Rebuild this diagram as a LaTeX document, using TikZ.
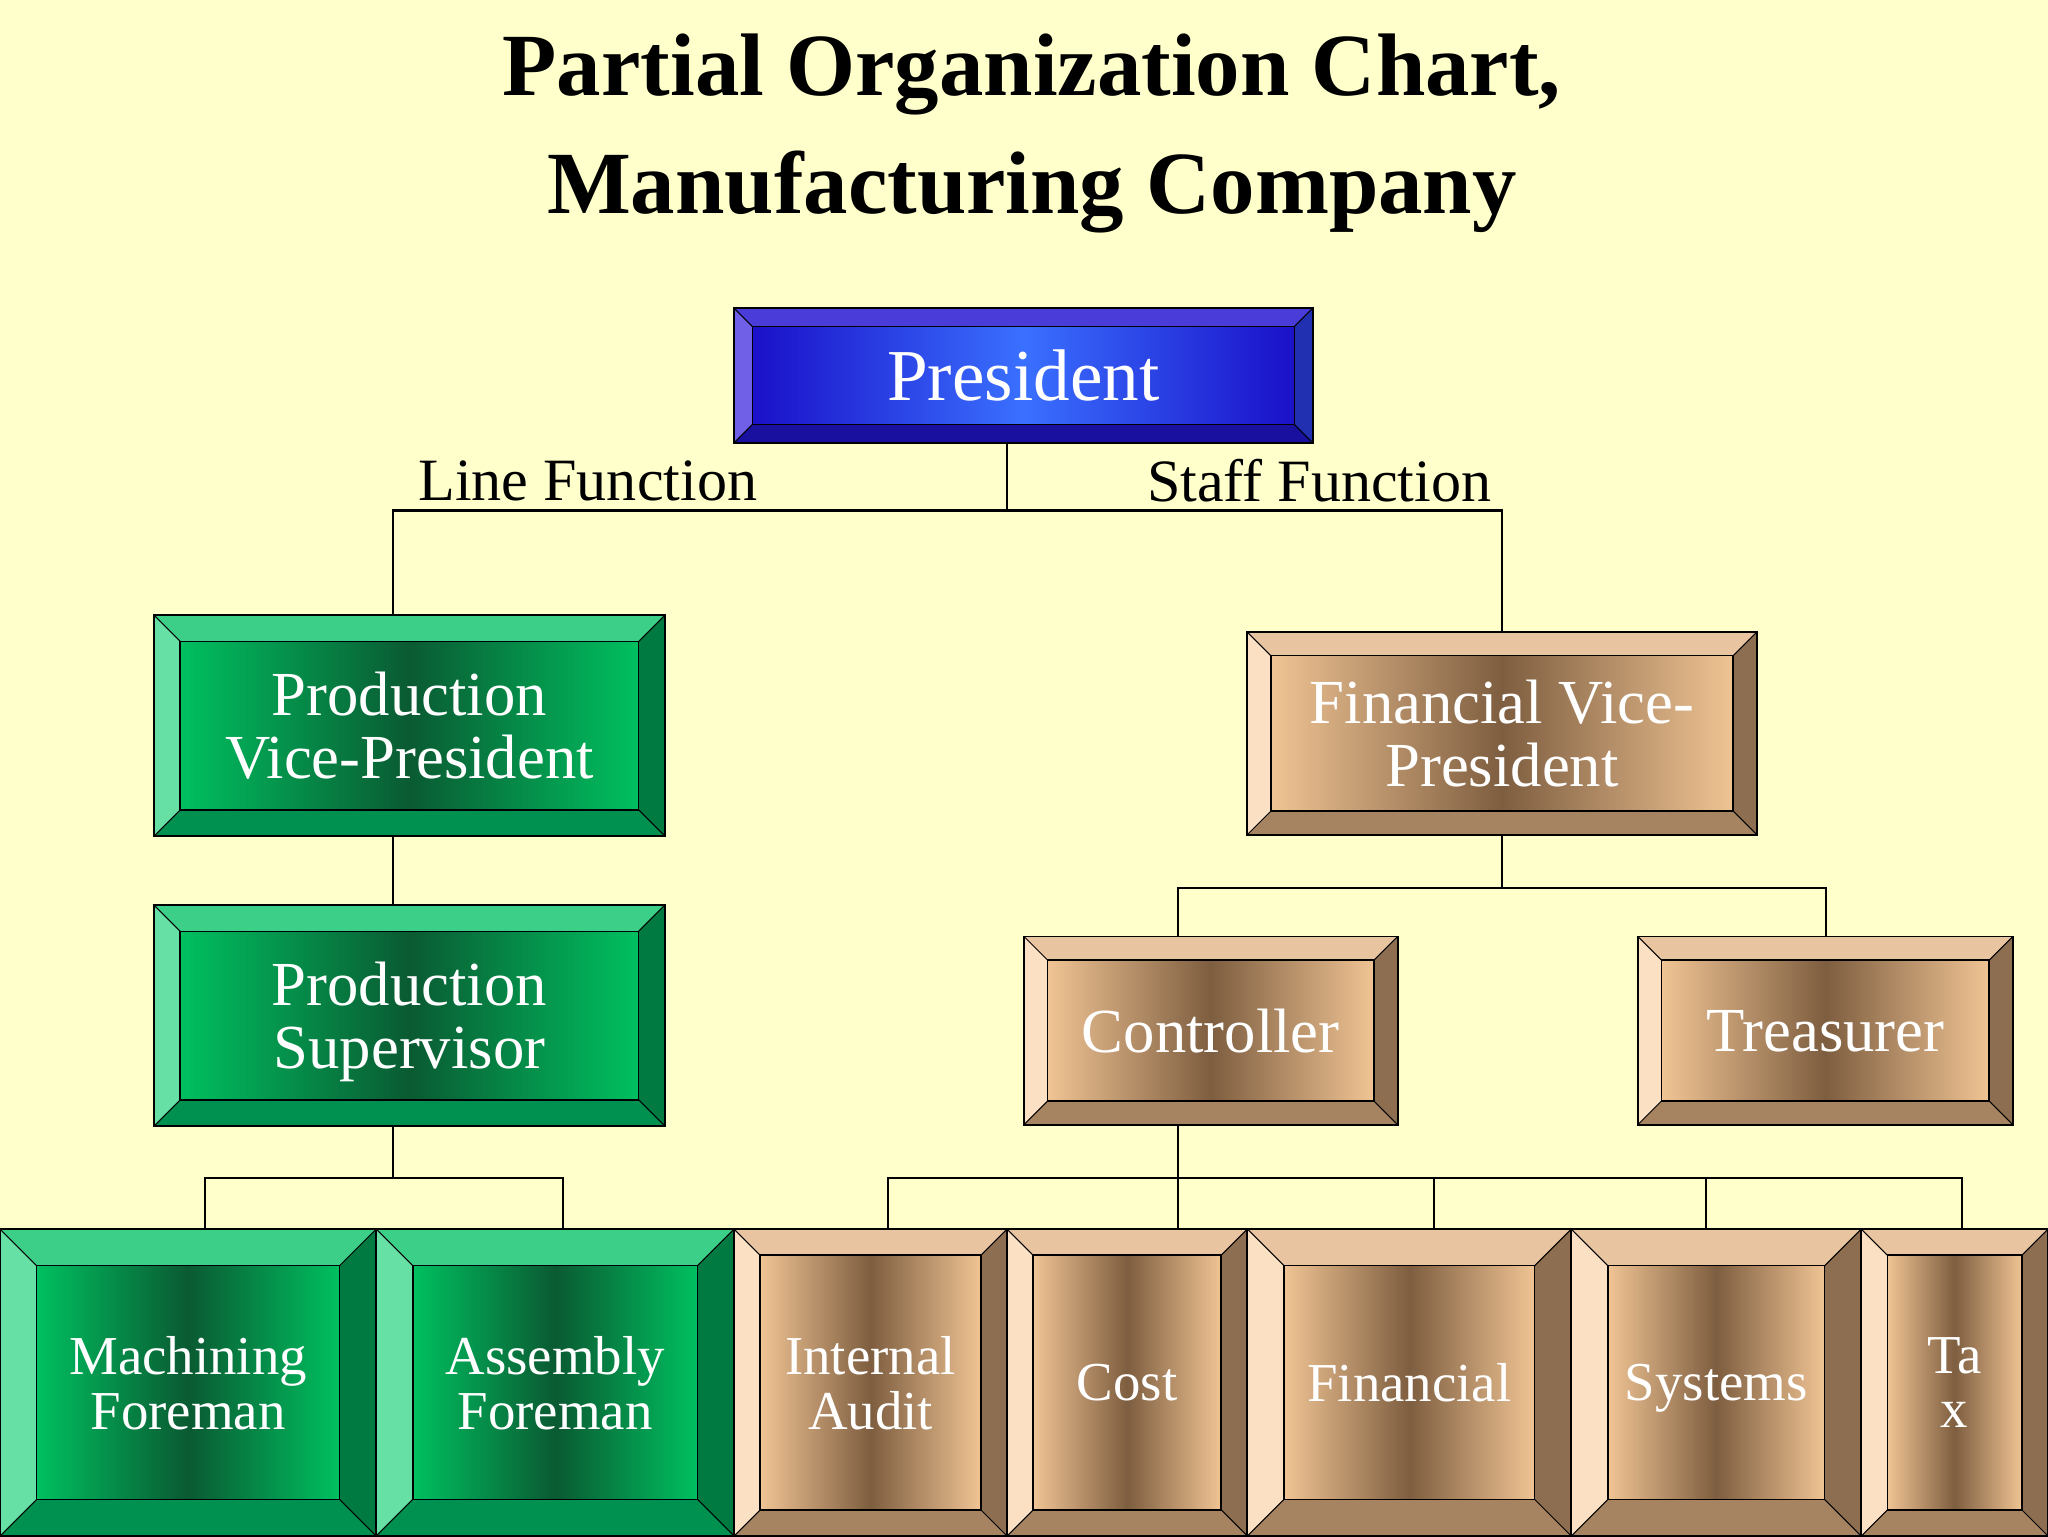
\documentclass[tikz,border=0pt]{standalone}
\usepackage{fontspec}
\setmainfont{Liberation Serif}
\begin{document}
\definecolor{bg}{HTML}{FFFFCC}
\definecolor{gT}{HTML}{3CCF88}\definecolor{gL}{HTML}{66E0A4}\definecolor{gB}{HTML}{009050}\definecolor{gR}{HTML}{007A40}
\definecolor{gA}{HTML}{00C060}\definecolor{gM}{HTML}{0A5A32}
\definecolor{tT}{HTML}{E8C4A0}\definecolor{tL}{HTML}{FCE0C4}\definecolor{tB}{HTML}{A68462}\definecolor{tR}{HTML}{8E6E50}
\definecolor{tA}{HTML}{F0C494}\definecolor{tM}{HTML}{7E5E40}
\definecolor{bT}{HTML}{4A3CD8}\definecolor{bL}{HTML}{7060E8}\definecolor{bB}{HTML}{1A10A0}\definecolor{bR}{HTML}{2030B0}
\definecolor{bA}{HTML}{1A10C8}\definecolor{bM}{HTML}{3A70FF}
\newcommand\bbox[9]{%
\fill[#7T] (#2,#3)--(#4,#3)--({#4-#6},{#3+#6})--({#2+#6},{#3+#6})--cycle;
\fill[#7L] (#2,#3)--({#2+#6},{#3+#6})--({#2+#6},{#5-#6})--(#2,#5)--cycle;
\fill[#7B] (#2,#5)--({#2+#6},{#5-#6})--({#4-#6},{#5-#6})--(#4,#5)--cycle;
\fill[#7R] (#4,#3)--(#4,#5)--({#4-#6},{#5-#6})--({#4-#6},{#3+#6})--cycle;
\shade[left color=#7A,right color=#7A,middle color=#7M] ({#2+#6},{#3+#6}) rectangle ({#4-#6},{#5-#6});
\draw[line width=1.2pt] ({#2+#6},{#3+#6}) rectangle ({#4-#6},{#5-#6});
\draw[line width=0.8pt] (#2,#3)--({#2+#6},{#3+#6}) (#4,#3)--({#4-#6},{#3+#6}) (#2,#5)--({#2+#6},{#5-#6}) (#4,#5)--({#4-#6},{#5-#6});
\node[draw,line width=1.5pt,inner sep=0,minimum width={#4-#2},minimum height={#5-#3},text=white,align=center,font=\fontsize{#9}{#9}\selectfont,text depth=0pt] (#1) at ({(#2+#4)/2},{(#3+#5)/2}) {#8};}
\begin{tikzpicture}[x=1pt,y=-1pt]
\fill[bg] (0,0) rectangle (1568,1176);
\useasboundingbox (0,0) rectangle (1568,1176);
\node[font=\fontsize{68}{90}\selectfont\bfseries,align=center] (title) at (790,102) {Partial Organization Chart,\\Manufacturing Company};
\bbox{pres}{562}{236}{1005}{339}{14}{b}{President}{56}
\bbox{pvp}{118}{471}{509}{640}{20}{g}{Production\\Vice-President}{48}
\bbox{psup}{118}{693}{509}{862}{20}{g}{Production\\Supervisor}{48}
\bbox{mach}{0}{941}{288}{1176}{28}{g}{Machining\\Foreman}{42}
\bbox{asm}{288}{941}{562}{1176}{28}{g}{Assembly\\Foreman}{42}
\bbox{fvp}{955}{484}{1345}{639}{18}{t}{Financial Vice-\\President}{48}
\bbox{ctrl}{784}{717}{1070}{861}{18}{t}{Controller}{48}
\bbox{tres}{1254}{717}{1541}{861}{18}{t}{Treasurer}{48}
\bbox{ia}{562}{941}{771}{1176}{20}{t}{Internal\\Audit}{42}
\bbox{cost}{771}{941}{955}{1176}{20}{t}{Cost}{42}
\bbox{fin}{955}{941}{1203}{1176}{28}{t}{Financial}{42}
\bbox{sys}{1203}{941}{1425}{1176}{28}{t}{Systems}{42}
\bbox{tax}{1425}{941}{1568}{1176}{20}{t}{Ta\\x}{42}
\node[font=\fontsize{46}{54}\selectfont] (lf) at (450,368) {Line Function};
\node[font=\fontsize{46}{54}\selectfont] (sf) at (1010,368) {Staff Function};
\begin{scope}[line width=2pt]
\coordinate (j1) at (771,391);
\draw (pres.south -| j1) -- (j1);
\draw (301,471) |- (j1) -| (1150,484);
\draw (301,640) -- (301,693);
\draw (301,862) -- (301,902);
\draw (157,941) |- (301,902) -| (431,941);
\draw (fvp.south) -- (1150,680);
\draw (902,717) |- (1150,680) -| (1398,717);
\draw (902,861) -- (902,941);
\draw (680,941) |- (1502,902) -- (1502,941);
\draw (1098,902) -- (1098,941) (1306,902) -- (1306,941);
\end{scope}
\end{tikzpicture}
\end{document}
